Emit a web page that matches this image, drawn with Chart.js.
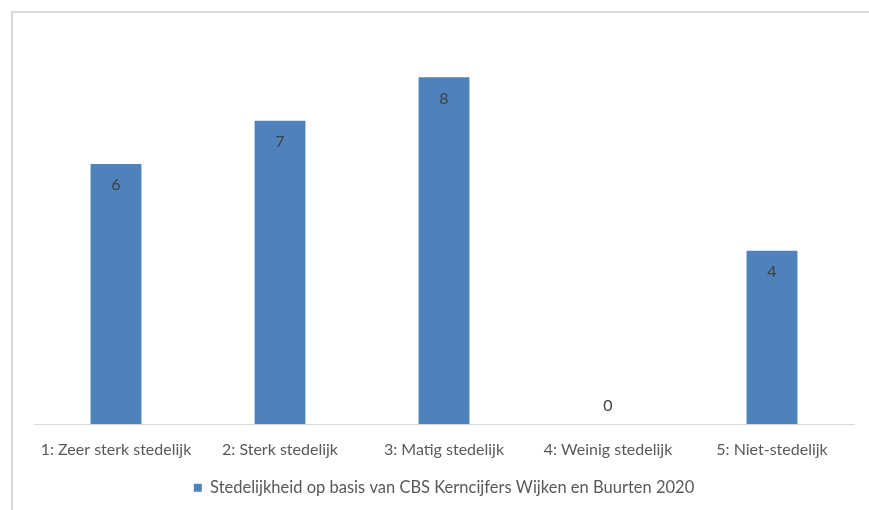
<!DOCTYPE html>
<html>
<head>
<meta charset="utf-8">
<script src="https://cdn.jsdelivr.net/npm/chart.js@4"></script>
<style>
  body { margin: 0; background: #fff; overflow: hidden; }
  #wrap { position: absolute; left: 0; top: 0; width: 869px; height: 510px; }
  #frame { position: absolute; left: 11px; top: 11px; width: 900px; height: 560px; border: 2px solid #d9d9d9; box-sizing: border-box; }
</style>
</head>
<body>
<div id="frame"></div>
<div id="wrap"><canvas id="grafico"></canvas></div>
<script>
var categorieen = ["1: Zeer sterk stedelijk", "2: Sterk stedelijk", "3: Matig stedelijk", "4: Weinig stedelijk", "5: Niet-stedelijk"];
var aantallen = [6, 7, 8, 0, 4];
var reeksNaam = "Stedelijkheid op basis van CBS Kerncijfers Wijken en Buurten 2020";

// waarden in de staaf schrijven (binnen, bovenaan)
var labelPlugin = {
    id: 'staafLabels',
    afterDatasetsDraw: function (chart) {
        var ctx = chart.ctx;
        var meta = chart.getDatasetMeta(0);
        ctx.save();
        ctx.font = '16px Lato';
        ctx.fillStyle = '#404040';
        ctx.textAlign = 'center';
        ctx.textBaseline = 'middle';
        meta.data.forEach(function (bar, i) {
            var v = chart.data.datasets[0].data[i];
            var y = v === 0 ? bar.y - 18 : bar.y + 21;
            ctx.fillText(String(v), bar.x, y);
        });
        ctx.restore();
    }
};

var datos = {
    labels: categorieen,
    datasets: [{
        label: reeksNaam,
        data: aantallen,
        backgroundColor: '#4f81bd',
        borderWidth: 0,
        barPercentage: 0.31,
        categoryPercentage: 1
    }]
};

var opciones = {
    responsive: true,
    maintainAspectRatio: false,
    animation: false,
    layout: { padding: { left: 34, right: 15, top: 34, bottom: 4 } },
    plugins: {
        legend: {
            display: true,
            position: 'bottom',
            labels: {
                boxWidth: 8,
                boxHeight: 8,
                padding: 4,
                color: '#595959',
                font: { family: 'Lato', size: 16.5 }
            }
        },
        tooltip: { enabled: false }
    },
    scales: {
        x: {
            grid: { display: false, drawTicks: false },
            border: { color: '#d9d9d9', width: 1 },
            ticks: { color: '#595959', font: { family: 'Lato', size: 16 }, padding: 16, maxRotation: 0 }
        },
        y: {
            display: false,
            min: 0,
            max: 9
        }
    }
};

new Chart(document.getElementById('grafico'), {
    type: 'bar',
    data: datos,
    options: opciones,
    plugins: [labelPlugin]
});
</script>
</body>
</html>
